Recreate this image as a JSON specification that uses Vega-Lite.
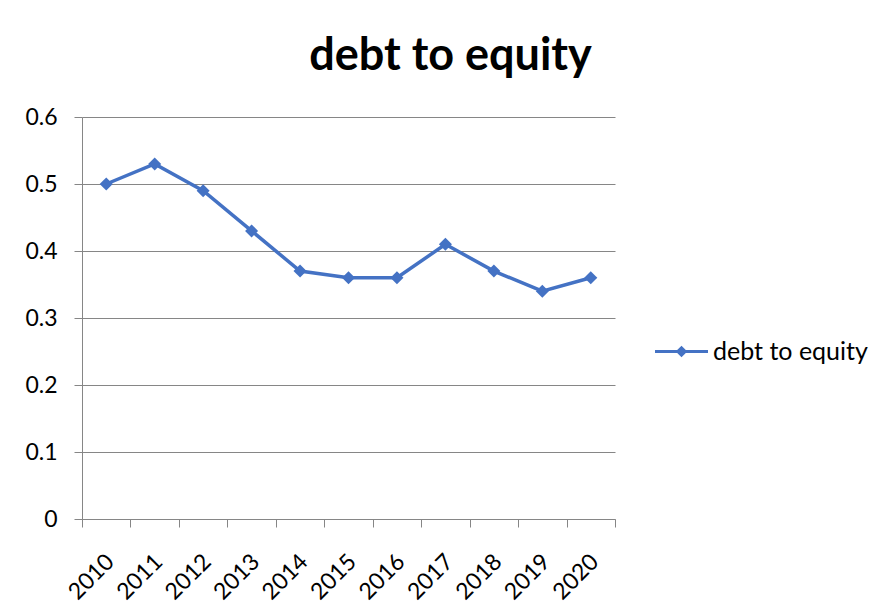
{
  "$schema": "https://vega.github.io/schema/vega-lite/v6.json",
  "width": 533,
  "height": 402,
  "autosize": "none",
  "padding": {"left": 82, "top": 117, "right": 266, "bottom": 93},
  "background": "white",
  "title": {"text": "debt to equity", "fontSize": 45, "font": "Lato", "fontWeight": "bold", "color": "#000000", "anchor": "middle", "dx": 102, "offset": 27},
  "data": {"values": [
    {"year": "2010", "value": 0.50},
    {"year": "2011", "value": 0.53},
    {"year": "2012", "value": 0.49},
    {"year": "2013", "value": 0.43},
    {"year": "2014", "value": 0.37},
    {"year": "2015", "value": 0.36},
    {"year": "2016", "value": 0.36},
    {"year": "2017", "value": 0.41},
    {"year": "2018", "value": 0.37},
    {"year": "2019", "value": 0.34},
    {"year": "2020", "value": 0.36}
  ]},
  "mark": {"type": "line", "strokeWidth": 3.5, "point": {"shape": "diamond", "size": 170, "filled": true}},
  "encoding": {
    "x": {"field": "year", "type": "ordinal", "bandPosition": 0.5,
      "scale": {"type": "band", "paddingInner": 0, "paddingOuter": 0},
      "axis": {"title": null, "labelAngle": -45, "labelFontSize": 23, "labelFont": "Lato", "labelColor": "#000000", "tickBand": "extent", "tickSize": 8, "tickColor": "#868686", "domainColor": "#868686", "labelPadding": 23, "labelOffset": -4, "grid": false}},
    "y": {"field": "value", "type": "quantitative",
      "scale": {"domain": [0, 0.6], "nice": false},
      "axis": {"title": null, "values": [0, 0.1, 0.2, 0.3, 0.4, 0.5, 0.6], "format": "~g", "labelFontSize": 23, "labelFont": "Lato", "labelColor": "#000000", "tickSize": 8, "tickColor": "#868686", "gridColor": "#868686", "domainColor": "#868686", "labelPadding": 17}},
    "color": {"datum": "debt to equity", "scale": {"range": ["#4472C4"]},
      "legend": {"orient": "none", "legendX": 573, "legendY": 208, "title": null, "padding": 0, "labelFontSize": 25, "labelFont": "Lato", "labelColor": "#000000", "symbolType": "M-1,-0.06H1V0.06H-1Z M-0.22,0L0,-0.22L0.22,0L0,0.22Z", "symbolSize": 2809, "symbolFillColor": "#4472C4", "symbolStrokeWidth": 0, "labelOffset": 5}}
  },
  "config": {"view": {"stroke": null}}
}
